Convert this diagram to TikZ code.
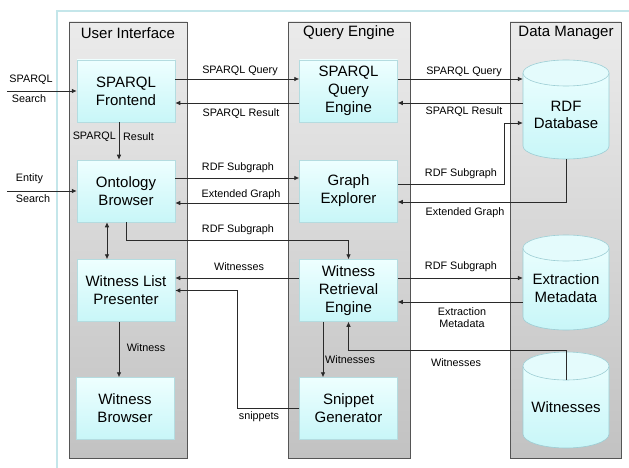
\documentclass[tikz,border=0pt]{standalone}
\usepackage{fontspec}
\setmainfont{Liberation Sans}
\usetikzlibrary{arrows.meta,calc}

\definecolor{framecol}{HTML}{C4E6EA}
\definecolor{paneltop}{HTML}{EBEBEB}
\definecolor{panelbot}{HTML}{C2C2C2}
\definecolor{paneledge}{HTML}{555555}
\definecolor{boxtop}{HTML}{EEFFFF}
\definecolor{boxbot}{HTML}{C8F6F8}
\definecolor{boxedge}{HTML}{B4DCE0}
\definecolor{cyltopc}{HTML}{E4FBFC}
\definecolor{cyledge}{HTML}{9CCDD4}
\definecolor{linecol}{HTML}{2A2A2A}

% cylinder: left x, right x, top y, bottom y, half height of the ellipse
\newcommand\drawcyl[5]{%
  \pgfmathsetmacro\cylcx{(#1+#2)/2}%
  \pgfmathsetmacro\cylrx{(#2-#1)/2}%
  \shade[top color=boxtop,bottom color=boxbot]
    (#1,#3+#5) -- (#1,#4-#5)
    arc[start angle=180,end angle=0,x radius=\cylrx,y radius=#5]
    -- (#2,#3+#5)
    arc[start angle=0,end angle=-180,x radius=\cylrx,y radius=#5] -- cycle;
  \draw[cyledge,line width=0.6pt]
    (#1,#3+#5) -- (#1,#4-#5)
    arc[start angle=180,end angle=0,x radius=\cylrx,y radius=#5]
    -- (#2,#3+#5);
  \filldraw[fill=cyltopc,draw=cyledge,line width=0.6pt]
    (\cylcx,#3+#5) ellipse[x radius=\cylrx,y radius=#5];
}

\tikzset{
  panel/.style={top color=paneltop,bottom color=panelbot,draw=paneledge,line width=0.9pt},
  title/.style={font=\fontsize{15}{17}\selectfont,inner sep=0pt},
  box/.style={rectangle,top color=boxtop,bottom color=boxbot,draw=boxedge,line width=0.5pt,
    minimum width=98pt,minimum height=62pt,inner sep=0pt,align=center,
    font=\fontsize{15}{18}\selectfont},
  cylslot/.style={rectangle,inner sep=0pt,minimum width=86pt},
  cyltext/.style={align=center,inner sep=0pt,font=\fontsize{15}{17.5}\selectfont},
  lbl/.style={inner sep=0pt,align=center,font=\fontsize{10.8}{12}\selectfont},
  arr/.style={draw=linecol,line width=0.8pt,-{Latex[length=5pt,width=4.6pt]}},
  biarr/.style={draw=linecol,line width=0.8pt,{Latex[length=5pt,width=4.6pt]}-{Latex[length=5pt,width=4.6pt]}}
}

\begin{document}
\begin{tikzpicture}[x=1pt,y=-1pt]
\useasboundingbox (0,0) rectangle (629,468);
\fill[white] (0,0) rectangle (629,468);

% outer frame
\draw[framecol,line width=2pt] (57,470) -- (57,11) -- (631,11);

% column panels
\shadedraw[panel] (69,22) rectangle (187,458);
\shadedraw[panel] (288,22) rectangle (410,458);
\shadedraw[panel] (510,22) rectangle (621,458);
\node[title] (uititle) at (128,33) {User Interface};
\node[title] (qetitle) at (349,33) {Query Engine};
\node[title] (dmtitle) at (566,33) {Data Manager};

% user interface components
\node[box] (sf)  at (126,91)    {SPARQL\\Frontend};
\node[box] (ob)  at (126,191)   {Ontology\\Browser};
\node[box] (wlp) at (126,290.5) {Witness List\\Presenter};
\node[box] (wb)  at (125,408.5) {Witness\\Browser};

% query engine components
\node[box] (sqe) at (348.5,91)    {SPARQL\\Query\\Engine};
\node[box] (ge)  at (348.5,191)   {Graph\\Explorer};
\node[box] (wre) at (348.5,290.5) {Witness\\Retrieval\\Engine};
\node[box] (sg)  at (348.5,408.5) {Snippet\\Generator};

% data stores
\drawcyl{523}{609}{60}{159}{13}
\drawcyl{523}{609}{235}{330}{13}
\drawcyl{523}{609}{352}{448}{14}
\node[cylslot,minimum height=99pt] (rdf) at (566,109.5) {};
\node[cylslot,minimum height=95pt] (em)  at (566,282.5) {};
\node[cylslot,minimum height=96pt] (wit) at (566,400) {};
\node[cyltext] (rdftext) at (566,115) {RDF\\Database};
\node[cyltext] (emtext)  at (566,288) {Extraction\\Metadata};
\node[cyltext] (wittext) at (566,407) {Witnesses};
\coordinate (witport) at (566,380);

% search inputs
\coordinate (sparqlin) at (7,91);
\coordinate (entityin) at (7,191);
\draw[arr] (sparqlin) -- (sf.west);
\draw[arr] (entityin) -- (ob.west);
\node[lbl] (lsparql)  at (31,80)  {SPARQL};
\node[lbl] (lsearch1) at (29,99)  {Search};
\node[lbl] (lentity)  at (29.5,179) {Entity};
\node[lbl] (lsearch2) at (33,199) {Search};

% user interface <-> query engine
\draw[arr] ([yshift=12pt]sf.east) -- ([yshift=12pt]sf.east -| sqe.west);
\draw[arr] ([yshift=-12pt]sqe.west) -- ([yshift=-12pt]sqe.west -| sf.east);
\node[lbl] (l1) at (240,71)  {SPARQL Query};
\node[lbl] (l2) at (241,114) {SPARQL Result};

\draw[arr] ([yshift=13pt]ob.east) -- ([yshift=13pt]ob.east -| ge.west);
\draw[arr] ([yshift=-12pt]ge.west) -- ([yshift=-12pt]ge.west -| ob.east);
\node[lbl] (l3) at (238,168) {RDF Subgraph};
\node[lbl] (l4) at (241,195) {Extended Graph};

\draw[arr] (ob.south) |- ([yshift=19pt]wre.north) -- (wre.north);
\node[lbl] (l5) at (238,230) {RDF Subgraph};

\draw[arr] ([yshift=12.5pt]wre.west) -- ([yshift=12.5pt]wre.west -| wlp.east);
\node[lbl] (l6) at (239,267) {Witnesses};

\draw[arr] (sg.west) -| ([xshift=62pt]wlp.east) -- (wlp.east);
\node[lbl] (l7) at (259,417) {snippets};

% inside the user interface
\draw[arr] ([xshift=-7pt]sf.south) -- ([xshift=-7pt]sf.south |- ob.north);
\node[lbl,anchor=east] (l8a) at (116,137) {SPARQL};
\node[lbl,anchor=west] (l8b) at (123,137) {Result};
\draw[biarr] ([xshift=-19pt]wlp.north) -- ([xshift=-19pt]wlp.north |- ob.south);
\draw[arr] ([xshift=-7pt]wlp.south) -- ([xshift=-7pt]wlp.south |- wb.north);
\node[lbl] (l9) at (146,348) {Witness};

% inside the query engine
\draw[arr] ([xshift=-25.5pt]wre.south) -- ([xshift=-25.5pt]wre.south |- sg.north);
\node[lbl,anchor=west] (l10) at (325,360) {Witnesses};

% query engine <-> data manager
\draw[arr] ([yshift=12pt]sqe.east) -- ([yshift=12pt]sqe.east -| rdf.west);
\draw[arr] ([yshift=-12pt]sqe.east -| rdf.west) -- ([yshift=-12pt]sqe.east);
\node[lbl] (l11) at (464,72)  {SPARQL Query};
\node[lbl] (l12) at (464,112) {SPARQL Result};

\draw[arr] ([yshift=7pt]ge.east) -| ([xshift=-18pt,yshift=-13.5pt]rdf.west) -- ([yshift=-13.5pt]rdf.west);
\draw[arr] (rdf.south) |- ([yshift=-11pt]ge.east);
\node[lbl] (l13) at (461,174) {RDF Subgraph};
\node[lbl] (l14) at (465,213) {Extended Graph};

\draw[arr] ([yshift=12.5pt]wre.east) -- ([yshift=12.5pt]wre.east -| em.west);
\draw[arr] ([yshift=-11.5pt]wre.east -| em.west) -- ([yshift=-11.5pt]wre.east);
\node[lbl] (l15) at (461,267) {RDF Subgraph};
\node[lbl] (l16) at (462,318) {Extraction\\Metadata};

\draw[arr] (witport) |- ([yshift=-29pt]wre.south) -- (wre.south);
\node[lbl] (l17) at (456,363) {Witnesses};
\end{tikzpicture}
\end{document}
